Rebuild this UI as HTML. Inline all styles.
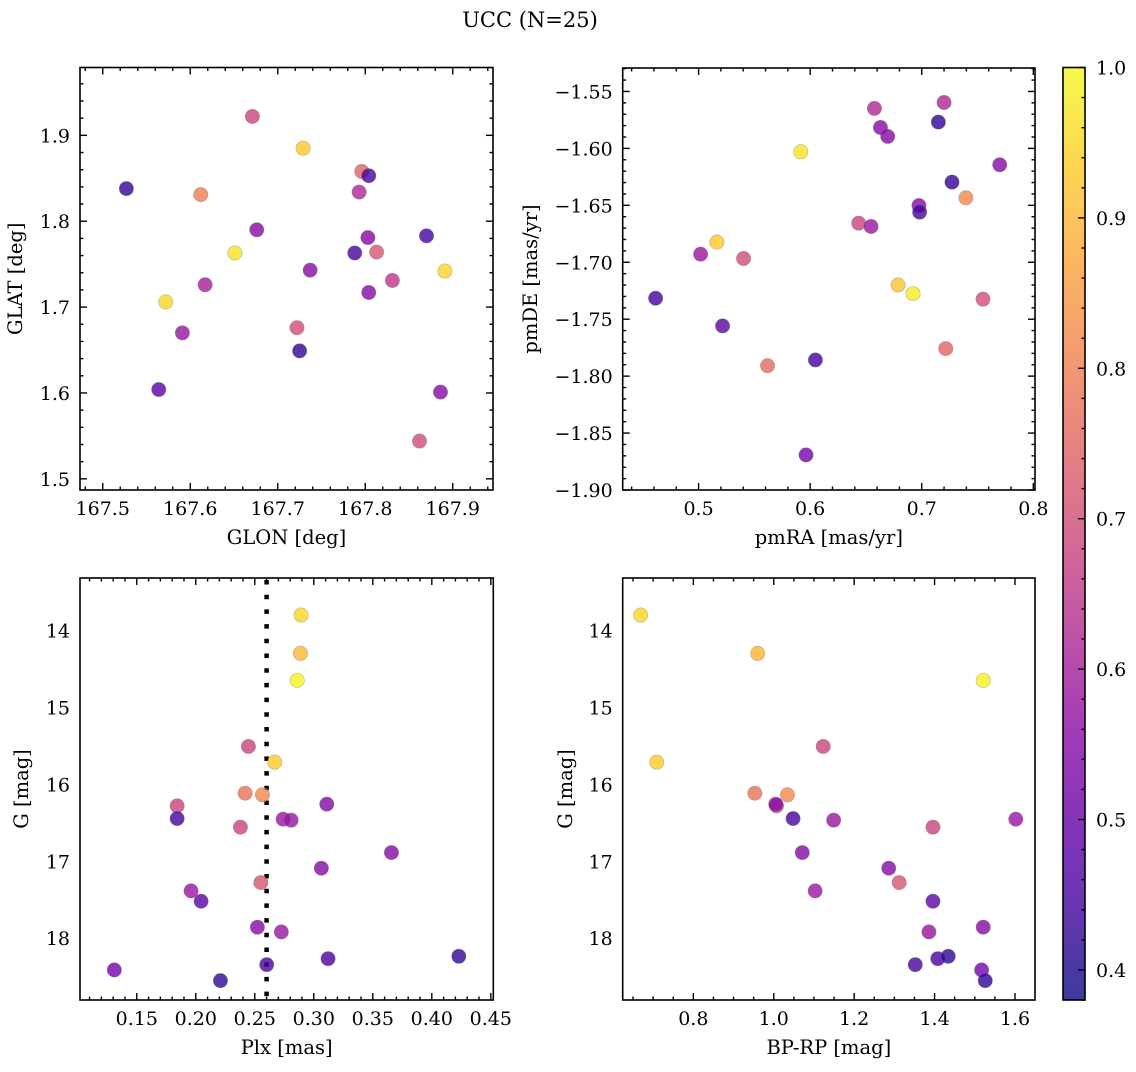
<!DOCTYPE html>
<html><head><meta charset="utf-8"><style>
html,body{margin:0;padding:0;background:#fff;}
svg text{font-family:"DejaVu Serif","Liberation Serif",serif;fill:#000;}
</style></head><body>
<svg id="fig" width="1136" height="1067" viewBox="0 0 1136 1067" xmlns="http://www.w3.org/2000/svg">
<defs>
<linearGradient id="plasma" x1="0" y1="1" x2="0" y2="0"></linearGradient>
</defs>
<text x="530" y="27" font-size="21" text-anchor="middle">UCC (N=25)</text>
</svg>
<script>
// ---- Panel 1: GLON vs GLAT
const glon = [167.527,167.612,167.671,167.729,167.676,167.651,167.617,167.572,167.591,167.564,167.722,167.725,167.737,167.788,167.793,167.796,167.804,167.803,167.813,167.804,167.831,167.870,167.891,167.886,167.862];
const glat = [1.838,1.831,1.922,1.885,1.790,1.763,1.726,1.706,1.670,1.604,1.676,1.649,1.743,1.763,1.834,1.858,1.853,1.781,1.764,1.717,1.731,1.783,1.742,1.601,1.544];
const cGal = [0.42,0.80,0.68,0.93,0.55,0.97,0.60,0.95,0.58,0.48,0.70,0.42,0.55,0.45,0.62,0.75,0.45,0.55,0.72,0.55,0.65,0.45,0.95,0.55,0.70];
const glonTicks = [167.5,167.6,167.7,167.8,167.9];
const glatTicks = [1.5,1.6,1.7,1.8,1.9];
// ---- Panel 2: pmRA vs pmDE
const pmra = [0.4615,0.5018,0.5164,0.5403,0.5215,0.5618,0.5916,0.6047,0.5963,0.6576,0.6630,0.6695,0.6435,0.6546,0.6975,0.6981,0.6788,0.6922,0.7149,0.7200,0.7271,0.7396,0.7699,0.7549,0.7215];
const pmde = [-1.7316,-1.6929,-1.6823,-1.6967,-1.7559,-1.7908,-1.6030,-1.7858,-1.8692,-1.5649,-1.5816,-1.5895,-1.6657,-1.6686,-1.6502,-1.6560,-1.7199,-1.7275,-1.5769,-1.5597,-1.6296,-1.6434,-1.6144,-1.7324,-1.7758];
const cPm = [0.45,0.58,0.93,0.70,0.48,0.76,0.97,0.45,0.52,0.62,0.55,0.55,0.68,0.58,0.55,0.45,0.92,0.98,0.42,0.62,0.42,0.82,0.55,0.70,0.75];
const pmraTicks = [0.5,0.6,0.7,0.8];
const pmdeTicks = [-1.55,-1.60,-1.65,-1.70,-1.75,-1.80,-1.85,-1.90];
// ---- Panel 3: Plx vs G
const plx = [0.2892,0.2887,0.2859,0.2446,0.2669,0.2418,0.2565,0.1842,0.1842,0.2378,0.2740,0.2808,0.3110,0.3658,0.3064,0.2551,0.1960,0.2045,0.2522,0.2725,0.2601,0.3121,0.4229,0.1310,0.2209];
const gPlx = [13.796,14.295,14.647,15.506,15.710,16.114,16.135,16.279,16.444,16.556,16.452,16.465,16.257,16.887,17.090,17.277,17.385,17.520,17.858,17.919,18.345,18.267,18.236,18.414,18.553];
const cPlx = [0.95,0.90,0.99,0.68,0.93,0.78,0.82,0.68,0.45,0.68,0.58,0.58,0.55,0.55,0.55,0.72,0.58,0.48,0.55,0.58,0.45,0.45,0.42,0.52,0.42];
const plxTicks = [0.15,0.20,0.25,0.30,0.35,0.40,0.45];
const plxRef = [0.26];
const gTicks = [14,15,16,17,18];
// ---- Panel 4: BP-RP vs G
const bprp = [0.669,0.960,1.521,0.709,1.123,0.953,1.034,1.007,1.005,1.048,1.149,1.602,1.396,1.071,1.286,1.312,1.103,1.396,1.521,1.386,1.352,1.408,1.434,1.517,1.526];
const gCol = [13.796,14.295,14.647,15.710,15.506,16.114,16.135,16.279,16.257,16.444,16.465,16.452,16.556,16.887,17.090,17.277,17.385,17.520,17.858,17.919,18.345,18.267,18.236,18.414,18.553];
const cCol = [0.95,0.90,0.99,0.93,0.68,0.78,0.82,0.68,0.55,0.45,0.58,0.58,0.68,0.55,0.55,0.72,0.58,0.48,0.55,0.58,0.45,0.45,0.42,0.52,0.42];
const bprpTicks = [0.8,1.0,1.2,1.4,1.6];
// ---- Colorbar
const cbTicks = [0.4,0.5,0.6,0.7,0.8,0.9,1.0];
const cMin = 0.38, cMax = 1.0;

const NS = "http://www.w3.org/2000/svg";
const svg = document.getElementById('fig');
const plasmaStops = ["#0d0887","#41049d","#6a00a8","#8f0da4","#b12a90","#cc4778","#e16462","#f2844b","#fca636","#fcce25","#f0f921"];
function hex(h){return [parseInt(h.substr(1,2),16),parseInt(h.substr(3,2),16),parseInt(h.substr(5,2),16)];}
function plasma(t){t=Math.max(0,Math.min(1,t));const f=t*10;const i=Math.min(9,Math.floor(f));const r=f-i;
 const a=hex(plasmaStops[i]),b=hex(plasmaStops[i+1]);return `rgb(${a.map((v,k)=>Math.round(v+(b[k]-v)*r)).join(',')})`;}
function colorOf(c){return plasma((c-cMin)/(cMax-cMin));}
function mk(tag,attrs,parent){const e=document.createElementNS(NS,tag);for(const k in attrs)e.setAttribute(k,attrs[k]);(parent||svg).appendChild(e);return e;}
function fmt(v,d){return v.toFixed(d).replace('-','\u2212');}
const TF=19, LF=19.5;

function panel(o){
 const g=mk('g',{});
 
 
 const sx=v=>o.L+(v-o.x0)/(o.x1-o.x0)*(o.R-o.L);
 const sy=v=>o.B-(v-o.y0)/(o.y1-o.y0)*(o.B-o.T);
 const tg=mk('g',{stroke:'#000','stroke-width':1.4},g);
 const minorX=o.xStep/o.xMinor, minorY=o.yStep/o.yMinor;
 for(let v=Math.ceil(o.x0/minorX-1e-6)*minorX; v<=o.x1+1e-9; v+=minorX){
  const x=sx(v); const isMaj=Math.abs(v/o.xStep-Math.round(v/o.xStep))<1e-4; const len=isMaj?7:3.5;
  mk('line',{x1:x,x2:x,y1:o.B,y2:o.B-len},tg); mk('line',{x1:x,x2:x,y1:o.T,y2:o.T+len},tg);}
 for(let v=Math.ceil(o.y0/minorY-1e-6)*minorY; v<=o.y1+1e-9; v+=minorY){
  const y=sy(v); const isMaj=Math.abs(v/o.yStep-Math.round(v/o.yStep))<1e-4; const len=isMaj?7:3.5;
  mk('line',{y1:y,y2:y,x1:o.L,x2:o.L+len},tg); mk('line',{y1:y,y2:y,x1:o.R,x2:o.R-len},tg);}
 o.xTicks.forEach(v=>{const t=mk('text',{x:sx(v),y:o.B+25,'font-size':TF,'text-anchor':'middle'},g);t.textContent=fmt(v,o.xd);
  
  });
 o.yTicks.forEach(v=>{const t=mk('text',{x:o.L-10,y:sy(v)+7,'font-size':TF,'text-anchor':'end'},g);t.textContent=fmt(v,o.yd);
  
  });
 const xl=mk('text',{x:(o.L+o.R)/2,y:o.B+54,'font-size':LF,'text-anchor':'middle'},g);xl.textContent=o.xlabel;
 
 
 const yl=mk('text',{x:0,y:0,'font-size':LF,'text-anchor':'middle',transform:`translate(${o.ylx},${(o.T+o.B)/2}) rotate(-90)`},g);yl.textContent=o.ylabel;
 
 
 const clip='clip'+o.name; const cp=mk('clipPath',{id:clip},g); mk('rect',{x:o.L,y:o.T,width:o.R-o.L,height:o.B-o.T},cp);
 const pg=mk('g',{'clip-path':`url(#${clip})`},g);
 if(o.vline){o.vline.forEach(v=>{const l=mk('line',{x1:sx(v),x2:sx(v),y1:o.T+2,y2:o.B,stroke:'#000','stroke-width':4.5,'stroke-dasharray':'4.5 10.2'},pg);
  
  });}
 o.xs.forEach((xv,i)=>{const c=mk('circle',{cx:sx(xv),cy:sy(o.ys[i]),r:7.2,fill:colorOf(o.cs[i]),'fill-opacity':0.8,stroke:'#777','stroke-opacity':0.5,'stroke-width':0.6},pg);
  
  });
 const fr=mk('rect',{x:o.L,y:o.T,width:o.R-o.L,height:o.B-o.T,fill:'none',stroke:'#000','stroke-width':1.6},g);
 
 
}

panel({name:'glon-glat-panel',L:80,R:493,T:67.5,B:490,x0:167.474,x1:167.946,y0:1.487,y1:1.979,xStep:0.1,xMinor:5,yStep:0.1,yMinor:5,
 xTicks:glonTicks,yTicks:glatTicks,xd:1,yd:1,xs:glon,ys:glat,cs:cGal,xlabel:'GLON [deg]',ylabel:'GLAT [deg]',ylx:22});
panel({name:'pm-panel',L:622.7,R:1035,T:68,B:490,x0:0.432,x1:0.8015,y0:-1.9,y1:-1.5294,xStep:0.1,xMinor:5,yStep:0.05,yMinor:5,
 xTicks:pmraTicks,yTicks:pmdeTicks,xd:1,yd:2,xs:pmra,ys:pmde,cs:cPm,xlabel:'pmRA [mas/yr]',ylabel:'pmDE [mas/yr]',ylx:537});
panel({name:'plx-g-panel',L:80,R:493.3,T:578,B:1000,x0:0.1019,x1:0.4521,y0:18.805,y1:13.314,xStep:0.05,xMinor:5,yStep:1,yMinor:5,
 xTicks:plxTicks,yTicks:gTicks,xd:2,yd:0,xs:plx,ys:gPlx,cs:cPlx,xlabel:'Plx [mas]',ylabel:'G [mag]',ylx:28,vline:plxRef});
panel({name:'cmd-panel',L:622.7,R:1035,T:578,B:1000,x0:0.6243,x1:1.6498,y0:18.805,y1:13.314,xStep:0.2,xMinor:4,yStep:1,yMinor:5,
 xTicks:bprpTicks,yTicks:gTicks,xd:1,yd:0,xs:bprp,ys:gCol,cs:cCol,xlabel:'BP-RP [mag]',ylabel:'G [mag]',ylx:572});

// colorbar
const grad=document.getElementById('plasma');
for(let k=0;k<=20;k++){const t=k/20; mk('stop',{offset:t,'stop-color':plasma(t)},grad);}
const cbg=mk('g',{});


const cbT=67.5,cbB=1000,cbL=1063,cbR=1085;
const cy=v=>cbB-(v-cMin)/(cMax-cMin)*(cbB-cbT);
mk('rect',{x:cbL,y:cbT,width:cbR-cbL,height:cbB-cbT,fill:'url(#plasma)','fill-opacity':0.8},cbg);
for(let v=0.38;v<=1.0001;v+=0.02){const y=cy(v);const maj=Math.abs(v*10-Math.round(v*10))<1e-4;
 mk('line',{x1:cbR,x2:cbR-(maj?7:3.5),y1:y,y2:y,stroke:'#000','stroke-width':1.4},cbg);}
cbTicks.forEach(v=>{const t=mk('text',{x:cbR+11,y:cy(v)+7,'font-size':TF},cbg);t.textContent=v.toFixed(1);
 
 });
mk('rect',{x:cbL,y:cbT,width:cbR-cbL,height:cbB-cbT,fill:'none',stroke:'#000','stroke-width':1.6},cbg);
</script>
</body></html>
